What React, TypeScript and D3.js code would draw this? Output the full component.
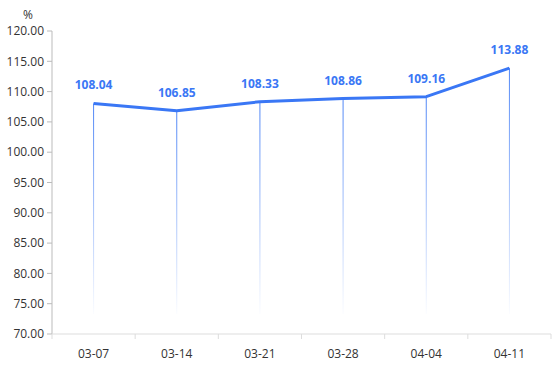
import React from "react";
import * as d3 from "d3";

const categories = ["03-07", "03-14", "03-21", "03-28", "04-04", "04-11"];
const values = [108.04, 106.85, 108.33, 108.86, 109.16, 113.88];
const yTicks = [70, 75, 80, 85, 90, 95, 100, 105, 110, 115, 120];
const unit = "%";

const W = 554, H = 377;
const M = { left: 52, right: 551, top: 31, bottom: 334 };
const LINE = "#3a77f5";
const FONT = "'Open Sans', 'Noto Sans', sans-serif";

export default function App() {
  const x = d3.scaleBand<string>().domain(categories).range([M.left, M.right]);
  const y = d3.scaleLinear().domain([70, 120]).range([M.bottom, M.top]);
  const cx = (c: string) => (x(c) as number) + x.bandwidth() / 2;
  const line = d3.line<number>().x((_, i) => cx(categories[i])).y((v) => y(v));
  const bounds = [...categories.map((c) => x(c) as number), M.right];

  return (
    <svg width={W} height={H} style={{ position: "absolute", left: 0, top: 0 }}>
      <defs>
        <linearGradient id="dropGrad" x1="0" y1="0" x2="0" y2="1">
          <stop offset="0%" stopColor={LINE} stopOpacity={0.9} />
          <stop offset="100%" stopColor={LINE} stopOpacity={0.02} />
        </linearGradient>
      </defs>
      <rect width={W} height={H} fill="#fff" />
      <text x={28} y={19} fontSize={12} fill="#333" fontFamily={FONT} textAnchor="middle">{unit}</text>
      {/* y axis */}
      <line x1={M.left} x2={M.left} y1={M.top} y2={M.bottom} stroke="#bbb" />
      {yTicks.map((t) => (
        <g key={t}>
          <line x1={M.left - 5} x2={M.left} y1={y(t)} y2={y(t)} stroke="#bbb" />
          <text x={M.left - 8} y={y(t)} dy="0.35em" textAnchor="end" fontSize={12} fill="#333" fontFamily={FONT}>
            {t.toFixed(2)}
          </text>
        </g>
      ))}
      {/* drop lines */}
      {values.map((v, i) => (
        <rect key={i} x={cx(categories[i]) - 0.5} width={1} y={y(v)} height={M.bottom - 20 - y(v)} fill="url(#dropGrad)" />
      ))}
      {/* x axis */}
      <line x1={M.left} x2={M.right} y1={M.bottom} y2={M.bottom} stroke="#ddd" />
      {bounds.map((b, i) => (
        <line key={i} x1={b} x2={b} y1={M.bottom} y2={M.bottom + 5} stroke="#ddd" />
      ))}
      {categories.map((c) => (
        <text key={c} x={cx(c)} y={M.bottom + 20} dy="0.35em" textAnchor="middle" fontSize={12} fill="#333" fontFamily={FONT}>
          {c}
        </text>
      ))}
      <path d={line(values) as string} fill="none" stroke={LINE} strokeWidth={3} strokeLinejoin="round" />
      {values.map((v, i) => (
        <text key={i} x={cx(categories[i])} y={y(v) - 14} textAnchor="middle" fontSize={12} fontWeight="bold" fill={LINE} fontFamily={FONT}>
          {v.toFixed(2)}
        </text>
      ))}
    </svg>
  );
}
